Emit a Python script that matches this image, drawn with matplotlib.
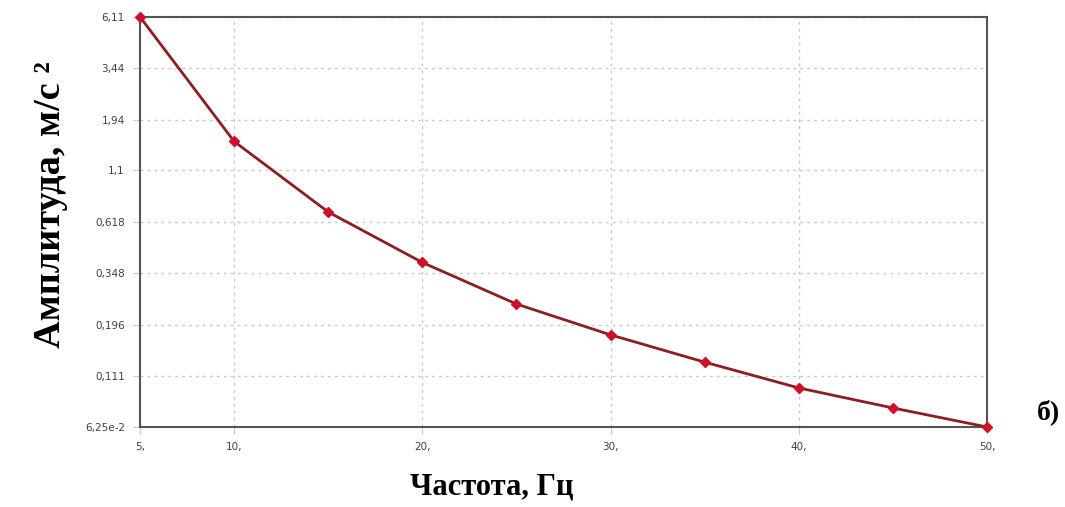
import matplotlib.pyplot as plt
from matplotlib.ticker import FixedLocator, FixedFormatter, NullLocator

# data
freq = [5, 10, 15, 20, 25, 30, 35, 40, 45, 50]
amplitude = [6.11, 1.52, 0.691, 0.393, 0.247, 0.175, 0.129, 0.0967, 0.0773, 0.0625]

y_ticks = [0.0625, 0.111, 0.196, 0.348, 0.618, 1.1, 1.94, 3.44, 6.11]
y_labels = ['6,25e-2', '0,111', '0,196', '0,348', '0,618', '1,1', '1,94', '3,44', '6,11']
x_ticks = [5, 10, 20, 30, 40, 50]
x_labels = ['5,', '10,', '20,', '30,', '40,', '50,']

fig = plt.figure(figsize=(10.65, 5.07), dpi=100)
ax = fig.add_axes([0.1315, 0.1578, 0.7953, 0.8087])

ax.plot(freq, amplitude, color='#8b1f1f', linewidth=2, zorder=3)
ax.plot(freq, amplitude, linestyle='none', marker='D', markersize=5.5,
        color='#d0102a', zorder=4, clip_on=False)

ax.set_yscale('log')
ax.set_xlim(5, 50)
ax.set_ylim(0.0625, 6.11)
ax.yaxis.set_major_locator(FixedLocator(y_ticks))
ax.yaxis.set_major_formatter(FixedFormatter(y_labels))
ax.yaxis.set_minor_locator(NullLocator())
ax.xaxis.set_major_locator(FixedLocator(x_ticks))
ax.xaxis.set_major_formatter(FixedFormatter(x_labels))

ax.grid(True, linestyle=(0, (2, 3)), color='#c8c8c8', linewidth=1)
ax.tick_params(axis='both', length=5, color='#c8c8c8', labelsize=7.5,
               labelcolor='#404040', pad=6)
for side in ['left', 'bottom', 'top', 'right']:
    ax.spines[side].set_color('#555555')
    ax.spines[side].set_linewidth(1.5)

fig.text(50 / 1065, 1 - 205 / 507, 'Амплитуда, м/с ²', rotation=90,
         ha='center', va='center', fontsize=27.5, fontweight='bold',
         family='Liberation Serif')
fig.text(492 / 1065, 1 - 487 / 507, 'Частота, Гц', ha='center', va='center',
         fontsize=22, fontweight='bold', family='Liberation Serif')
fig.text(1048 / 1065, 1 - 412 / 507, 'б)', ha='center', va='center',
         fontsize=20, fontweight='bold', family='Liberation Serif')

fig.savefig('out.png', dpi=100)
